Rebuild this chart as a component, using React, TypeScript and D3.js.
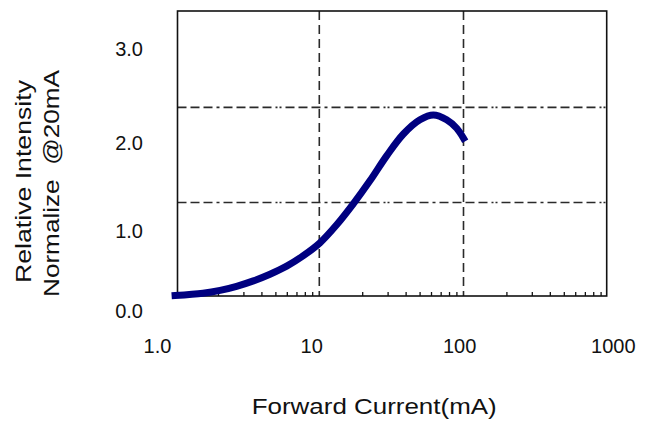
import React from "react";
import * as d3 from "d3";

// ---- data ----
const currentMA = [1.0, 1.56, 2.05, 2.67, 3.49, 4.55, 5.94, 7.75, 10.1, 13.2, 17.2, 22.5, 29.3, 38.3, 49.9, 61.8, 76.4, 89.7, 100];
const intensity = [0.02, 0.045, 0.075, 0.118, 0.175, 0.245, 0.33, 0.44, 0.575, 0.765, 0.985, 1.23, 1.49, 1.72, 1.87, 1.92, 1.87, 1.78, 1.675];

const xTickValues = [1, 10, 100, 1000];
const xTickLabels = ["1.0", "10", "100", "1000"];
const yTickValues = [0, 1, 2, 3];
const yTickLabels = ["0.0", "1.0", "2.0", "3.0"];
const xGridValues = [10, 100];
const yGridValues = [1, 2];
const decades = [1, 10, 100];
const minorMultipliers = [2, 3, 4, 5, 6, 7, 8, 9];

const xTitle = "Forward Current(mA)";
const yTitle1 = "Relative Intensity";
const yTitle2 = "Normalize  @20mA";

const W = 648;
const H = 425;
const FONT = "'Liberation Sans', Arial, Helvetica, sans-serif";

export default function App() {
  const box = { left: 177.5, right: 606.7, top: 11, bottom: 296 };

  const x = d3.scaleLog().domain([1, 1000]).range([175.1, 607.7]);
  const y = d3.scaleLinear().domain([0, 3]).range([297.5, 12.3]);

  // label placement scales (labels in the source are offset from their ticks)
  const xLab = d3.scaleLog().domain(xTickValues).range([157.5, 311.7, 459.7, 613.3]);
  const yLab = d3.scaleLinear().domain(yTickValues).range([310.5, 231, 143, 49]);

  const pts = currentMA.map((c, i) => [c, intensity[i]] as [number, number]);
  const line = d3
    .line<[number, number]>()
    .x((d) => x(d[0]))
    .y((d) => y(d[1]))
    .curve(d3.curveCatmullRom.alpha(0.5));

  const minorTicks: number[] = [];
  decades.forEach((d) => minorMultipliers.forEach((m) => minorTicks.push(d * m)));

  const gridColor = "#2a2a2a";

  return (
    <svg
      width={W}
      height={H}
      viewBox={`0 0 ${W} ${H}`}
      style={{ position: "absolute", left: 0, top: 0, display: "block", background: "#fff" }}
      fontFamily={FONT}
    >
      <rect x={0} y={0} width={W} height={H} fill="#fff" />

      {/* vertical grid */}
      {xGridValues.map((v) => (
        <line
          key={"vx" + v}
          x1={x(v)}
          x2={x(v)}
          y1={box.top}
          y2={box.bottom}
          stroke={gridColor}
          strokeWidth={1.6}
          strokeDasharray="9,5"
        />
      ))}
      {/* horizontal grid */}
      {yGridValues.map((v) => (
        <line
          key={"hy" + v}
          x1={box.left}
          x2={box.right}
          y1={y(v)}
          y2={y(v)}
          stroke={gridColor}
          strokeWidth={1.6}
          strokeDasharray="9,4,9,4,9,4,3,4,9,4,9,4,9,4,9,4,2,2,2,4"
        />
      ))}

      {/* minor ticks */}
      {minorTicks.map((v) => (
        <line key={"mt" + v} x1={x(v)} x2={x(v)} y1={box.bottom} y2={box.bottom - 4} stroke="#111" strokeWidth={1.3} />
      ))}

      {/* frame */}
      <rect
        x={box.left}
        y={box.top}
        width={box.right - box.left}
        height={box.bottom - box.top}
        fill="none"
        stroke="#111"
        strokeWidth={1.6}
      />

      {/* curve */}
      <path d={line(pts) || ""} fill="none" stroke="#000080" strokeWidth={7} strokeLinecap="square" strokeLinejoin="round" />

      {/* x tick labels */}
      {xTickValues.map((v, i) => (
        <text key={"xl" + v} x={xLab(v)} y={345.5} textAnchor="middle" dominantBaseline="central" fontSize={20} fill="#111">
          {xTickLabels[i]}
        </text>
      ))}
      {/* y tick labels */}
      {yTickValues.map((v, i) => (
        <text key={"yl" + v} x={143} y={yLab(v)} textAnchor="end" dominantBaseline="central" fontSize={20} fill="#111">
          {yTickLabels[i]}
        </text>
      ))}

      {/* titles */}
      <text x={374.2} y={414.3} textAnchor="middle" fontSize={22} fill="#111" textLength={245} lengthAdjust="spacingAndGlyphs">
        {xTitle}
      </text>
      <text
        transform="translate(30.8,181.5) rotate(-90)"
        textAnchor="middle"
        fontSize={22}
        fill="#111"
        textLength={203}
        lengthAdjust="spacingAndGlyphs"
      >
        {yTitle1}
      </text>
      <text
        transform="translate(59,183.5) rotate(-90)"
        textAnchor="middle"
        fontSize={22}
        fill="#111"
        textLength={227}
        lengthAdjust="spacingAndGlyphs"
        style={{ whiteSpace: "pre" }}
      >
        {yTitle2}
      </text>
    </svg>
  );
}
